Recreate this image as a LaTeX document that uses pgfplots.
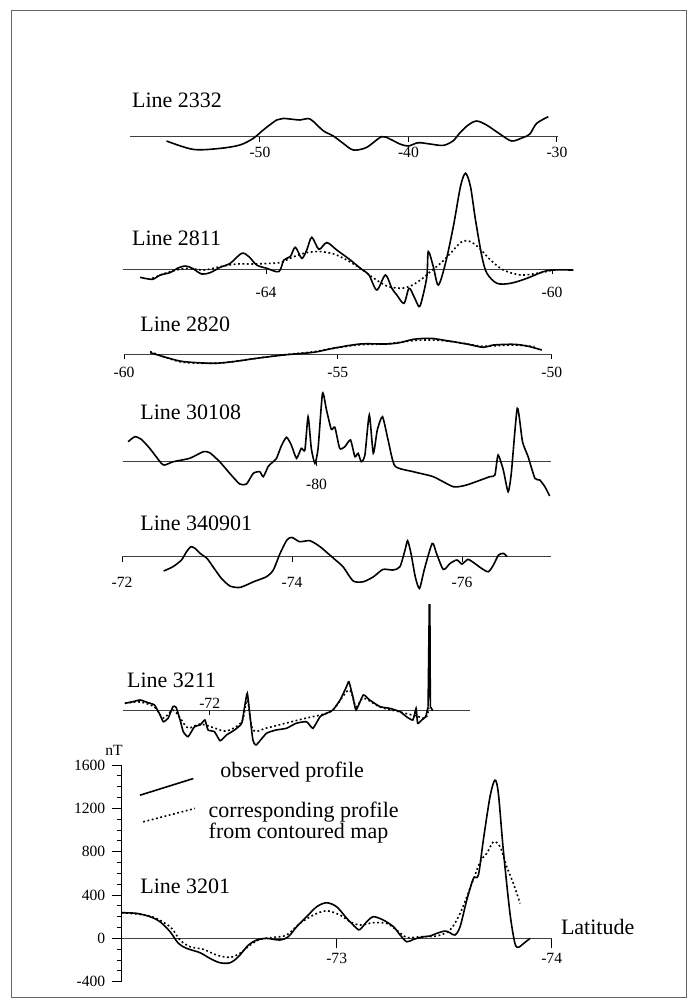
\documentclass[border=0pt]{standalone}
\usepackage{pgfplots}
\pgfplotsset{compat=1.18}
\usepackage{fontspec}
\setmainfont{Liberation Serif}
\newcommand{\tfont}{\fontsize{11}{13}\selectfont}
\newcommand{\kfont}{\fontsize{7.8}{8.8}\selectfont}
\pgfplotsset{
 prof/.style={
   anchor=south west, clip=false,
   axis x line=middle, axis y line=none,
   axis line style={-, line width=0.45pt, black!75},
   enlargelimits=false, y=0.5pt,
   tick align=outside, major tick length=2.5pt,
   tick style={black, line width=0.45pt},
   xticklabel style={font=\kfont, inner sep=1pt},
   ytick=\empty,
 },
 obs/.style={black, line width=0.8pt, smooth, tension=0.5, mark=none},
 cont/.style={black, line width=0.8pt, dash pattern=on 0.9pt off 1.3pt, smooth, tension=0.5, mark=none},
}
\begin{document}
\begin{tikzpicture}
\path (0,0) rectangle (344pt,-499pt);
\draw[black!60, line width=0.5pt] (5.5pt,-5.35pt) rectangle (343pt,-498.5pt);

% ---------------- Line 2332
\node[anchor=west, inner sep=0, font=\tfont] at (65.85pt,-50pt) {Line 2332};
\begin{axis}[prof, at={(65pt,-78.35pt)}, x=7.425pt, xmin=-58.75, xmax=-29.9, ymin=-20, ymax=25,
  xtick={-50,-40,-30}, xticklabels={-50,-40,-30}, xticklabel style={yshift=-1.5pt}]
\addplot[obs] coordinates {(-56.29,-4.3) (-54.49,-12.7) (-52.69,-11.7) (-51.35,-8.3) (-50.45,-1.7) (-49.78,6.7) (-48.88,16.7) (-48.43,18.3) (-47.31,16.7) (-46.63,17.7) (-45.74,6) (-45.06,0.7) (-44.39,-6.7) (-43.71,-13.3) (-42.82,-10.7) (-41.81,0) (-41.25,-2.3) (-40.57,-7.3) (-40.01,-9.3) (-39.34,-6) (-38.55,-7.3) (-37.65,-8.7) (-36.98,-4) (-36.53,4) (-35.97,11.7) (-35.41,15.7) (-34.74,11.7) (-33.84,2.7) (-33.05,-4.3) (-32.27,-0.7) (-31.82,2.7) (-31.37,13.3) (-30.58,20)};
\end{axis}

% ---------------- Line 2811
\node[anchor=west, inner sep=0, font=\tfont] at (65.85pt,-119.15pt) {Line 2811};
\begin{axis}[prof, at={(61.5pt,-154.65pt)}, x=35.75pt, xmin=-66, xmax=-59.7, ymin=-40, ymax=100,
  xtick={-64,-60}, xticklabels={-64,-60}, xticklabel style={yshift=-5.2pt}]
\addplot[obs] coordinates {(-65.76,-8) (-65.59,-10) (-65.48,-5.7) (-65.34,-3.3) (-65.24,1) (-65.13,3.3) (-65.03,1) (-64.90,-4.7) (-64.78,-3.3) (-64.64,2) (-64.50,6) (-64.34,16) (-64.24,12.7) (-64.13,4.3) (-63.99,1) (-63.82,-2.3) (-63.75,9.3) (-63.66,12.7) (-63.59,22) (-63.50,11) (-63.43,19.3) (-63.36,32) (-63.26,20) (-63.15,26.7) (-63.01,19.3) (-62.82,9.3) (-62.68,1) (-62.56,-5.7) (-62.45,-20.7) (-62.33,-5.7) (-62.24,-19) (-62.17,-25.7) (-62.07,-34) (-62.00,-19) (-61.93,-27.3) (-61.86,-37.3) (-61.82,-30.7) (-61.75,-7.3) (-61.73,17.7) (-61.66,2.7) (-61.59,-15.7) (-61.49,6) (-61.38,42.7) (-61.28,82.7) (-61.21,96) (-61.14,82.7) (-61.07,49.3) (-60.98,12.7) (-60.91,-4) (-60.77,-14) (-60.58,-14) (-60.35,-9) (-60.12,-2.3) (-59.98,-0.7) (-59.70,-0.7)};
\addplot[cont] coordinates {(-65.59,-9) (-65.34,-2.3) (-65.10,1) (-64.87,-0.7) (-64.64,2.7) (-64.41,5.3) (-64.17,5.3) (-63.94,6) (-63.80,6.7) (-63.61,12.7) (-63.43,16.7) (-63.24,17.7) (-63.05,15.3) (-62.87,9.3) (-62.68,1) (-62.49,-9) (-62.31,-16.7) (-62.12,-19) (-61.98,-16.7) (-61.84,-10.7) (-61.70,-2.3) (-61.56,6) (-61.42,16) (-61.28,26.7) (-61.19,28.7) (-61.10,26) (-61.00,20) (-60.86,9.3) (-60.68,-0.7) (-60.44,-5.7) (-60.21,-4) (-59.98,-0.7)};
\end{axis}

% ---------------- Line 2820
\node[anchor=west, inner sep=0, font=\tfont] at (70pt,-162pt) {Line 2820};
\begin{axis}[prof, at={(62pt,-184.65pt)}, x=21.385pt, xmin=-60, xmax=-50, ymin=-15, ymax=20,
  xtick={-60,-55,-50}, xticklabels={-60,-55,-50}, xticklabel style={yshift=-2.7pt}]
\addplot[obs] coordinates {(-59.39,1.7) (-59.0,-3.3) (-58.61,-7.3) (-57.91,-9) (-57.44,-7.3) (-56.90,-4) (-56.27,-0.7) (-55.57,2) (-55.11,6) (-54.48,10.3) (-53.86,10.3) (-53.55,11.7) (-53.23,15) (-52.84,16) (-52.46,13.7) (-51.99,10.3) (-51.60,7) (-51.36,9.3) (-50.90,10) (-50.58,8.3) (-50.23,4.3)};
\addplot[cont] coordinates {(-59.39,2.7) (-59.0,-3.5) (-58.61,-8) (-57.91,-9) (-57.44,-7.3) (-56.90,-4) (-56.27,-0.5) (-55.57,2.5) (-55.11,6) (-54.48,9.5) (-53.86,10.5) (-53.23,13.7) (-52.84,14.3) (-52.46,13.3) (-51.99,10.5) (-51.60,8) (-50.90,9.3) (-50.40,7.7)};
\end{axis}

% ---------------- Line 30108
\node[anchor=west, inner sep=0, font=\tfont] at (70pt,-206pt) {Line 30108};
\begin{axis}[prof, at={(61.65pt,-250.5pt)}, x=20pt, xmin=-84.83, xmax=-74.13, ymin=-40, ymax=75,
  xtick={-80}, xticklabels={-80}, xticklabel style={yshift=-5.2pt}]
\addplot[black, line width=0.8pt, smooth, tension=0.35, mark=none] coordinates {(-84.71,19.3) (-84.54,24.3) (-84.38,21.7) (-84.17,12.7) (-83.88,-2.3) (-83.79,-4) (-83.58,-0.7) (-83.17,2.7) (-82.83,9.3) (-82.67,8.3) (-82.42,-0.7) (-82.17,-12.3) (-81.92,-23) (-81.75,-23) (-81.58,-12.3) (-81.42,-10.7) (-81.33,-15.7) (-81.21,-5.7) (-81.13,-2.3) (-81.00,2.7) (-80.88,15) (-80.75,23.7) (-80.63,16) (-80.50,2.7) (-80.38,12.7) (-80.29,11) (-80.21,44.3) (-80.13,12.7) (-80.04,-2.3) (-79.96,12.7) (-79.85,67.7) (-79.75,51) (-79.63,31.7) (-79.54,33.7) (-79.42,12.7) (-79.29,14.3) (-79.15,21) (-79.04,4.3) (-78.96,7.7) (-78.88,-0.7) (-78.79,6) (-78.68,46) (-78.58,7.7) (-78.48,31) (-78.35,44.3) (-78.21,21) (-78.04,-5) (-77.58,-10.7) (-77.08,-15.7) (-76.58,-25.7) (-76.25,-24) (-75.67,-15.7) (-75.54,-14) (-75.46,6) (-75.33,-9) (-75.21,-30.7) (-75.13,-12.3) (-74.98,52.7) (-74.85,19.3) (-74.71,4.3) (-74.54,-17.3) (-74.42,-19) (-74.29,-25.7) (-74.17,-35)};
\end{axis}

% ---------------- Line 340901
\node[anchor=west, inner sep=0, font=\tfont] at (70pt,-261.5pt) {Line 340901};
\begin{axis}[prof, at={(61pt,-298.35pt)}, x=42.5pt, x dir=reverse, xmin=-77.05, xmax=-72, ymin=-40, ymax=25,
  xtick={-76,-74,-72}, xticklabels={-76,-74,-72}, xticklabel style={yshift=-6.4pt}]
\addplot[black, line width=0.8pt, smooth, tension=0.4, mark=none] coordinates {(-72.49,-14.3) (-72.60,-10) (-72.70,-3.3) (-72.76,5) (-72.81,10) (-72.86,8.3) (-72.92,3.3) (-73.00,-1.7) (-73.07,-10) (-73.17,-21.7) (-73.27,-29.3) (-73.39,-30.7) (-73.55,-25) (-73.70,-20) (-73.78,-13.3) (-73.86,3.3) (-73.94,16.7) (-74.00,19.3) (-74.09,15) (-74.21,16) (-74.33,10) (-74.49,-1.7) (-74.60,-10) (-74.72,-24.3) (-74.84,-25) (-74.96,-20) (-75.07,-12.7) (-75.19,-13.3) (-75.27,-10) (-75.33,6.7) (-75.36,16) (-75.40,3.3) (-75.45,-20) (-75.50,-31.7) (-75.56,-11.7) (-75.65,13.3) (-75.70,3.3) (-75.78,-12.7) (-75.86,-6.7) (-75.94,-3.3) (-76.00,-7.3) (-76.07,-2.7) (-76.15,-6.7) (-76.23,-11.7) (-76.31,-15) (-76.37,-8.3) (-76.43,1.7) (-76.49,3.3) (-76.53,0)};
\end{axis}

% ---------------- Line 3211
\node[anchor=west, inner sep=0, font=\tfont] at (63.35pt,-340pt) {Line 3211};
\begin{axis}[prof, at={(61.65pt,-375pt)}, x=40pt, x dir=reverse, xmin=-75.25, xmax=-70.92, ymin=-40, ymax=110,
  xtick={-72}, xticklabels={}]
\node[anchor=south, inner sep=0.5pt, font=\kfont] at (axis cs:-72,0) {-72};
\addplot[black, line width=0.8pt, smooth, tension=0.3, mark=none] coordinates {(-70.94,6.7) (-71.04,8.3) (-71.13,10) (-71.23,7.3) (-71.31,5) (-71.38,-5) (-71.42,-11.7) (-71.48,-8.3) (-71.54,3.3) (-71.58,2.7) (-71.63,-10) (-71.67,-21.7) (-71.73,-26.7) (-71.81,-16.7) (-71.88,-15) (-71.94,-10) (-71.98,-20) (-72.06,-21.7) (-72.13,-30.7) (-72.21,-25) (-72.31,-20) (-72.40,-13.3) (-72.44,5) (-72.47,16.7) (-72.50,-3.3) (-72.54,-30) (-72.58,-35) (-72.71,-23.3) (-72.83,-20) (-72.96,-18.3) (-73.08,-13.3) (-73.21,-11.7) (-73.29,-18.3) (-73.38,-6.7) (-73.46,-3.3) (-73.54,0) (-73.63,10) (-73.71,23.3) (-73.74,28.3) (-73.79,13.3) (-73.83,0) (-73.92,15) (-74.00,10) (-74.13,3.3) (-74.25,1.7) (-74.38,-1.7) (-74.46,-6.7) (-74.54,-10) (-74.58,1.7) (-74.60,-13.3) (-74.65,-10) (-74.70,-6.7) (-74.73,3.3)};
\addplot[black, line width=0.8pt, mark=none] coordinates {(-74.73,3.3) (-74.745,105) (-74.752,105) (-74.758,3.3) (-74.79,-0.7)};
\addplot[cont] coordinates {(-70.94,6.7) (-71.13,8) (-71.31,3) (-71.42,-8) (-71.54,0) (-71.63,-8) (-71.73,-18) (-71.88,-14) (-72.06,-18) (-72.21,-21) (-72.40,-12) (-72.47,10) (-72.54,-20) (-72.71,-18) (-72.96,-13) (-73.21,-8) (-73.38,-5) (-73.54,0) (-73.74,20) (-73.83,3) (-73.92,12) (-74.13,3) (-74.38,-2) (-74.58,-6) (-74.70,-8) (-74.74,2)};
\end{axis}

% ---------------- Line 3201 (with nT scale)
\node[anchor=center, inner sep=0, font=\kfont] at (57pt,-375pt) {nT};
\node[anchor=west, inner sep=0, font=\tfont] at (70pt,-443.35pt) {Line 3201};
\node[anchor=west, inner sep=0, font=\tfont] at (110pt,-385.85pt) {observed profile};
\node[anchor=west, inner sep=0, font=\tfont] at (104.15pt,-405.85pt) {corresponding profile};
\node[anchor=west, inner sep=0, font=\tfont] at (104.15pt,-416.65pt) {from contoured map};
\node[anchor=west, inner sep=0, font=\tfont] at (280.3pt,-463.5pt) {Latitude};
\begin{axis}[at={(60.85pt,-490.85pt)}, anchor=south west, clip=false,
  x=107.5pt, y=0.05416pt, x dir=reverse, xmin=-74, xmax=-72, ymin=-400, ymax=1600,
  enlargelimits=false,
  axis x line=middle, axis y line=left, axis line style={-},
  x axis line style={black!75, line width=0.45pt},
  y axis line style={black, line width=0.5pt},
  xtick={-74,-73}, xticklabels={-74,-73},
  ytick={-400,0,400,800,1200,1600}, yticklabels={-400,0,400,800,1200,1600},
  scaled y ticks=false, minor y tick num=3,
  tick align=outside, major tick length=5pt, minor tick length=2.5pt,
  tick style={black, line width=0.45pt},
  xticklabel style={font=\kfont, inner sep=1pt, yshift=-1pt},
  yticklabel style={font=\kfont, inner sep=1.5pt, xshift=-1.5pt}]
\addplot[obs] coordinates {(-72.000,237) (-72.070,231) (-72.132,200) (-72.178,154) (-72.225,62) (-72.264,-46) (-72.302,-92) (-72.364,-132) (-72.411,-185) (-72.457,-225) (-72.504,-225) (-72.543,-169) (-72.589,-62) (-72.628,-15) (-72.674,0) (-72.736,-15) (-72.775,15) (-72.814,108) (-72.860,200) (-72.907,292) (-72.953,329) (-73.000,292) (-73.047,185) (-73.093,92) (-73.109,83) (-73.140,154) (-73.171,200) (-73.217,169) (-73.264,108) (-73.295,31) (-73.326,-31) (-73.357,-9) (-73.403,15) (-73.434,22) (-73.465,46) (-73.504,68) (-73.527,52) (-73.550,31) (-73.574,108) (-73.605,354) (-73.636,554) (-73.659,584) (-73.682,907) (-73.713,1307) (-73.736,1461) (-73.752,1338) (-73.775,815) (-73.806,231) (-73.829,-46) (-73.845,-83) (-73.860,-62) (-73.880,-30) (-73.900,0)};
\addplot[cont] coordinates {(-72.000,237) (-72.132,206) (-72.225,108) (-72.271,-15) (-72.318,-77) (-72.380,-101) (-72.442,-154) (-72.504,-175) (-72.550,-138) (-72.597,-62) (-72.643,-9) (-72.705,9) (-72.767,31) (-72.829,138) (-72.891,215) (-72.953,255) (-73.016,215) (-73.062,154) (-73.109,123) (-73.171,145) (-73.233,138) (-73.279,77) (-73.326,9) (-73.388,15) (-73.465,22) (-73.527,77) (-73.574,231) (-73.620,461) (-73.667,707) (-73.698,784) (-73.729,892) (-73.760,846) (-73.791,661) (-73.822,507) (-73.853,323)};
\addplot[black, line width=0.8pt, mark=none] coordinates {(-72.085,1322) (-72.333,1476)};
\addplot[black, line width=0.8pt, dash pattern=on 0.9pt off 1.3pt, mark=none] coordinates {(-72.100,1076) (-72.341,1200)};
\end{axis}
\end{tikzpicture}
\end{document}
